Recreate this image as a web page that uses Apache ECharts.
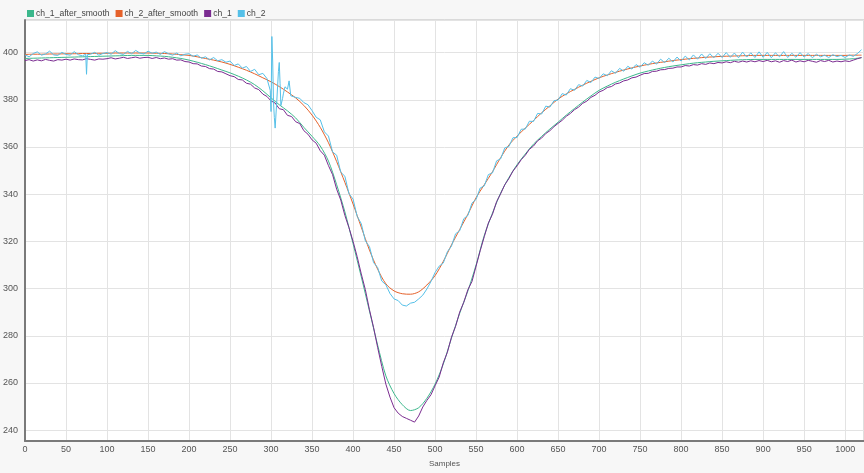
<!DOCTYPE html>
<html>
<head>
<meta charset="utf-8">
<script src="https://cdn.jsdelivr.net/npm/echarts@6/dist/echarts.min.js"></script>
<style>
  html, body { margin: 0; padding: 0; background: #f7f7f7; }
  #myChart { width: 864px; height: 473px; }
</style>
</head>
<body>
<div id="myChart"></div>
<script>
// smoothed curves, one value every 10 samples (0..1020)
var ch1Smooth = [
  397.5, 397.6, 397.7, 397.8, 397.9, 398.0, 398.1, 398.2, 398.3, 398.4,
  398.5, 398.6, 398.7, 398.8, 398.8, 398.8, 398.6, 398.4, 398.0, 397.5,
  396.8, 395.9, 394.9, 393.8, 392.6, 391.4, 390.0, 388.4, 386.4, 383.8,
  380.8, 377.9, 375.3, 372.3, 368.3, 364.5, 360.4, 354.0, 344.0, 332.5,
  319.0, 305.0, 290.5, 276.0, 263.0, 255.5, 250.8, 248.3, 249.5, 253.5,
  259.5, 268.0, 279.0, 289.5, 299.0, 310.0, 322.5, 332.0, 340.5, 347.0,
  352.5, 357.0, 361.2, 364.5, 367.6, 370.5, 373.5, 376.3, 379.0, 381.6,
  384.0, 385.8, 387.4, 388.8, 390.1, 391.3, 392.2, 393.0, 393.7, 394.3,
  394.8, 395.3, 395.7, 396.0, 396.3, 396.5, 396.7, 396.9, 397.0, 397.1,
  397.1, 397.1, 397.1, 397.1, 397.1, 397.1, 397.1, 397.1, 397.1, 397.1,
  397.2, 397.4, 397.8
]
var ch2Smooth = [
  399.2, 399.3, 399.3, 399.4, 399.4, 399.5, 399.5, 399.6, 399.6, 399.7,
  399.7, 399.8, 399.8, 399.8, 399.8, 399.8, 399.7, 399.6, 399.4, 399.1,
  398.8, 398.2, 397.5, 396.8, 396.0, 395.0, 393.8, 392.5, 391.0, 389.3,
  387.6, 385.6, 383.3, 380.8, 377.6, 373.5, 368.3, 361.8, 353.8, 345.0,
  335.8, 326.0, 316.3, 308.2, 302.0, 299.0, 297.8, 297.6, 298.6, 301.5,
  305.5, 311.5, 318.5, 325.0, 331.5, 338.5, 344.0, 349.5, 355.5, 360.8,
  364.6, 368.0, 371.2, 374.5, 377.4, 380.3, 382.5, 384.4, 386.2, 387.8,
  389.3, 390.5, 391.6, 392.6, 393.5, 394.3, 395.0, 395.6, 396.1, 396.6,
  397.0, 397.4, 397.7, 398.0, 398.2, 398.4, 398.5, 398.6, 398.7, 398.8,
  398.8, 398.8, 398.8, 398.8, 398.8, 398.8, 398.8, 398.8, 398.8, 398.8,
  398.8, 398.9, 398.9
]
// raw channels, one value every 5 samples (0..1020)
var ch1Raw = [
  396.6, 397.0, 396.4, 396.9, 396.5, 397.1, 396.7, 396.4, 397.0, 396.8,
  397.2, 396.8, 397.3, 397.0, 396.9, 397.4, 397.1, 396.8, 397.3, 397.2,
  397.4, 397.8, 397.3, 397.6, 398.0, 397.5, 397.8, 398.1, 397.6, 397.9,
  398.0, 397.5, 397.9, 397.4, 397.7, 397.2, 397.4, 396.8, 396.9, 396.2,
  396.0, 395.3, 395.2, 394.3, 394.1, 393.2, 393.0, 392.0, 391.8, 391.0,
  390.2, 389.8, 388.6, 388.4, 387.0, 386.6, 385.0, 384.3, 382.4, 381.4,
  379.5, 378.6, 376.2, 375.8, 373.4, 372.9, 370.7, 369.9, 366.9, 365.4,
  363.0, 361.6, 358.4, 356.5, 352.1, 348.3, 342.1, 337.5, 331.0, 325.8,
  320.0, 313.5, 306.2, 299.5, 291.0, 283.5, 275.0, 267.0, 259.5, 254.0,
  249.5, 247.2, 245.8, 245.0, 244.2, 243.4, 246.0, 249.8, 252.6, 255.0,
  258.8, 262.5, 268.5, 273.0, 279.4, 284.0, 290.0, 294.2, 299.5, 303.0,
  309.5, 316.0, 322.0, 327.8, 331.5, 336.8, 340.2, 344.0, 346.6, 349.8,
  352.0, 354.6, 356.5, 359.0, 360.4, 362.6, 363.8, 365.7, 366.9, 368.6,
  370.0, 371.3, 373.0, 374.2, 375.8, 376.9, 378.5, 379.4, 381.0, 381.9,
  383.3, 384.0, 385.2, 385.6, 386.7, 387.1, 388.0, 388.4, 389.3, 389.6,
  390.4, 391.1, 391.2, 392.0, 392.1, 392.7, 392.8, 393.3, 393.4, 393.9,
  393.9, 394.5, 394.3, 394.9, 394.7, 395.3, 395.0, 395.6, 395.3, 395.8,
  395.6, 396.1, 395.7, 396.3, 395.9, 396.4, 396.0, 396.5, 396.1, 396.6,
  396.2, 396.7, 396.1, 396.5, 395.9, 396.6, 396.2, 396.8, 396.0, 396.5,
  396.1, 396.7, 396.3, 395.9, 396.6, 396.2, 396.7, 396.0, 396.4, 396.1,
  396.5, 396.2, 396.8, 397.4, 397.9
]
var ch2Raw = [
  399.0, 398.2, 399.6, 400.3, 398.9, 399.4, 400.6, 399.0, 398.8, 400.1,
  399.2, 398.9, 400.4, 399.1, 398.6, 390.8, 399.3, 400.1, 398.9, 399.6,
  400.0, 399.3, 400.8, 399.6, 399.2, 400.5, 399.5, 400.9, 399.8, 399.4,
  400.6, 399.7, 400.2, 399.2, 400.4, 399.5, 398.9, 399.8, 398.6, 399.3,
  399.5, 398.4, 399.0, 397.6, 398.2, 396.9, 397.9, 396.5, 397.0, 395.9,
  396.4, 394.5, 395.2, 393.4, 394.1, 392.0, 392.9, 390.6, 391.2, 389.0,
  375.0, 368.0, 395.8, 382.5, 384.5, 382.0, 381.0, 380.6, 378.8, 377.9,
  375.4, 372.6, 371.5, 366.4, 364.6, 357.9, 356.5, 349.3, 347.6, 340.2,
  337.9, 330.6, 327.5, 320.2, 317.8, 311.0, 308.9, 303.2, 301.6, 297.9,
  295.6, 294.9, 293.0, 292.6, 293.8, 294.2, 295.6, 297.2, 299.8, 303.0,
  306.8, 309.5, 310.8, 315.6, 318.0, 323.2, 324.5, 329.6, 331.0, 336.2,
  337.8, 342.6, 343.5, 348.3, 349.0, 354.1, 355.0, 359.6, 360.2, 363.9,
  364.0, 367.5, 367.6, 370.9, 370.8, 374.2, 374.0, 377.3, 376.9, 379.6,
  379.9, 382.6, 382.0, 384.7, 384.0, 386.4, 385.8, 388.2, 387.3, 389.6,
  389.0, 391.0, 390.2, 392.3, 391.2, 393.3, 392.1, 394.2, 393.0, 394.9,
  393.8, 395.7, 394.6, 396.4, 395.1, 397.2, 395.7, 397.6, 396.0, 398.1,
  396.4, 398.5, 396.9, 399.0, 397.2, 399.4, 397.5, 399.5, 397.8, 399.7,
  397.9, 400.0, 398.0, 399.8, 397.8, 400.2, 398.1, 399.9, 397.9, 400.3,
  398.0, 400.1, 397.8, 399.9, 398.2, 400.4, 397.9, 399.7, 398.0, 400.0,
  398.1, 399.6, 397.8, 399.3, 398.2, 398.9, 397.9, 399.1, 398.3, 398.8,
  397.9, 399.0, 398.4, 399.6, 401.2
]
// extra single samples of ch_2 around the glitches [sample, value]
var ch2Spikes = [
  [74, 399.3], [76, 399.1],
  [297, 388.5], [299, 384.0], [301, 406.8], [302, 396.0], [303, 379.0],
  [304, 372.5], [307, 379.5], [309, 392.0], [311, 387.0], [312, 377.6],
  [314, 380.5], [317, 385.5], [322, 388.0], [324, 381.7]
]
var seriesNames = ['ch_1_after_smooth', 'ch_2_after_smooth', 'ch_1', 'ch_2']
var seriesColors = ['#3cb88c', '#e5612a', '#7b2c91', '#55c0e8']

function toPairs (values, step) {
  return values.map(function (v, i) { return [i * step, v] })
}

var ch2Data = toPairs(ch2Raw, 5).concat(ch2Spikes).sort(function (a, b) {
  return a[0] - b[0]
})
var seriesData = [
  toPairs(ch1Smooth, 10),
  toPairs(ch2Smooth, 10),
  toPairs(ch1Raw, 5),
  ch2Data
]

var myChart = echarts.init(document.getElementById('myChart'))
var labelFont = 'Liberation Sans'

myChart.setOption({
  animation: false,
  backgroundColor: '#f7f7f7',
  legend: {
    left: 22,
    top: 4,
    itemWidth: 7,
    itemHeight: 7,
    itemGap: 6,
    icon: 'rect',
    textStyle: {
      fontSize: 8.6,
      color: '#444',
      fontFamily: labelFont,
      padding: [0, 0, 0, -3]
    },
    data: seriesNames
  },
  grid: {
    left: 25,
    right: -2,
    top: 20,
    bottom: 26,
    show: true,
    backgroundColor: '#ffffff',
    borderColor: '#bdbdbd',
    borderWidth: 1
  },
  xAxis: {
    type: 'value',
    min: 0,
    max: 1023,
    interval: 50,
    name: 'Samples',
    nameLocation: 'middle',
    nameGap: 19,
    nameTextStyle: { fontSize: 8, color: '#555', fontFamily: labelFont },
    axisLine: { lineStyle: { color: '#7a7a7a', width: 2 } },
    axisTick: { show: false },
    axisLabel: {
      fontSize: 9,
      color: '#555',
      margin: 4,
      fontFamily: labelFont,
      showMaxLabel: false,
      formatter: function (v) { return String(v) }
    },
    splitLine: { lineStyle: { color: '#e3e3e3' } }
  },
  yAxis: {
    type: 'value',
    min: 235.4,
    max: 413.8,
    splitNumber: 9,
    axisLine: { show: true, lineStyle: { color: '#7a7a7a', width: 2 } },
    axisTick: { show: false },
    axisLabel: {
      fontSize: 9,
      color: '#555',
      margin: 7,
      fontFamily: labelFont,
      showMinLabel: false,
      showMaxLabel: false
    },
    splitLine: { lineStyle: { color: '#e3e3e3' } }
  },
  series: seriesNames.map(function (name, i) {
    return {
      name: name,
      type: 'line',
      data: seriesData[i],
      showSymbol: false,
      smooth: i < 2 ? 0.3 : false,
      itemStyle: { color: seriesColors[i] },
      lineStyle: { width: 1, color: seriesColors[i] }
    }
  })
})
</script>
</body>
</html>
